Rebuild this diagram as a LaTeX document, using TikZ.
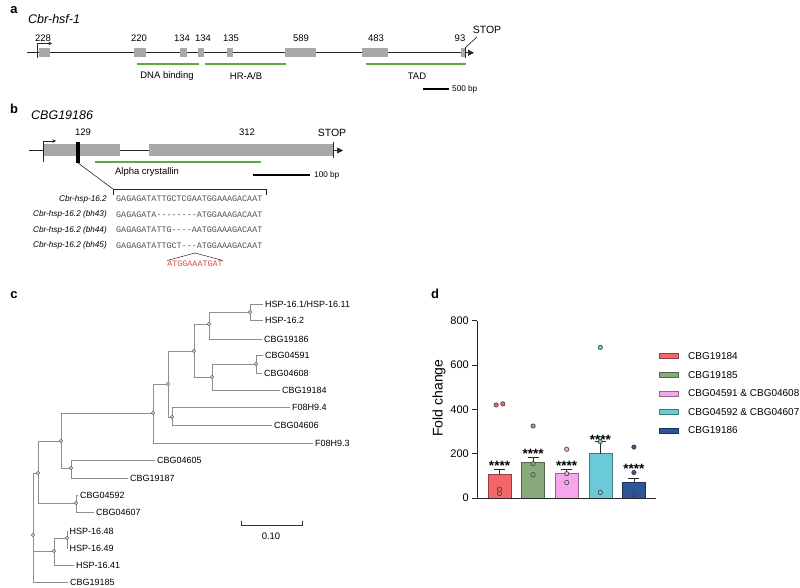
\documentclass[tikz,border=0pt]{standalone}
\usepackage{fontspec}
\setmainfont{Liberation Sans}
\setmonofont{Liberation Mono}
\usetikzlibrary{arrows.meta}

\definecolor{exongray}{HTML}{A8A8A8}
\definecolor{domgreen}{HTML}{5FA83F}
\definecolor{treegray}{HTML}{8E8E8E}
\definecolor{seqgray}{HTML}{505050}
\definecolor{insred}{HTML}{E0464B}
\definecolor{cRed}{HTML}{F3676A}
\definecolor{cGreen}{HTML}{88AA7C}
\definecolor{cPink}{HTML}{F5A6EC}
\definecolor{cCyan}{HTML}{6BCAD8}
\definecolor{cBlue}{HTML}{2D559A}

\begin{document}
\begin{tikzpicture}[x=1pt,y=-1pt,
  panel/.style={inner sep=0pt,font=\fontsize{13}{15}\selectfont\bfseries},
  title/.style={anchor=west,inner sep=0pt,font=\fontsize{12.5}{14}\selectfont\itshape},
  num/.style={inner sep=0pt,font=\fontsize{9.5}{11}\selectfont},
  small/.style={anchor=west,inner sep=0pt,font=\fontsize{8.2}{10}\selectfont},
  exon/.style={fill=exongray},
  gene/.style={line width=0.7pt,black!85},
  dom/.style={domgreen,line width=1.8pt},
  bar/.style={line width=1.5pt},
  tip/.style={-{Triangle[length=6pt,width=6pt]}},
  start/.style={-{Stealth[length=3.5pt,width=3.5pt]}},
  seq/.style={inner sep=0pt,anchor=west,text=seqgray,font=\fontsize{8.4}{10}\ttfamily},
  seqlbl/.style={inner sep=0pt,anchor=east,font=\fontsize{8.2}{10}\selectfont\itshape},
  branch/.style={treegray,line width=0.8pt},
  knot/.style={fill=gray!45,draw=gray!75!black,line width=0.3pt},
  leaf/.style={anchor=west,inner xsep=2pt,inner ysep=0pt,font=\fontsize{9}{11}\selectfont},
  axis/.style={black!85,line width=0.9pt},
  ticklbl/.style={inner sep=0pt,anchor=east,font=\fontsize{11}{13}\selectfont},
  legend/.style={anchor=west,inner sep=0pt,font=\fontsize{10}{12}\selectfont},
  stars/.style={anchor=base,inner sep=0pt,font=\fontsize{13.5}{15}\selectfont\bfseries}]

\useasboundingbox (0,0) rectangle (800,588);

% a
\node[panel] (pa) at (14,10) {a};
\node[title] (ga) at (28,19) {Cbr-hsf-1};
\draw[gene] (27,52.8) -- (465,52.8);
\foreach \a/\b/\n/\lx [count=\k] in {39/50/228/43, 134/146/220/139, 180/187/134/182,
    198/204/134/203, 227/233/135/231, 285/316/589/301, 362/388/483/376, 461/465/93/460}
  {\fill[exon] (\a,48.3) rectangle (\b,57.3);
   \node[num] (ea\k) at (\lx,38.5) {\n};}
\draw[gene,start] (37,58) -- (37,43.5) -- (52,43.5);
\draw[gene] (465,47.5) -- (465,58.5);
\draw[gene] (466,47) -- (477,37);
\draw[gene,tip] (465,52.8) -- (474,52.8);
\node[num,font=\fontsize{10.5}{12}\selectfont] (stopa) at (487,30) {STOP};
\draw[dom] (137,64) -- (199,64);
\draw[dom] (205,64) -- (286,64);
\draw[dom] (366,64) -- (466,64);
\node[num] (dna) at (167,76) {DNA binding};
\node[num] (hr) at (246,76) {HR-A/B};
\node[num] (tad) at (417,76) {TAD};
\draw[bar] (423,89) -- (449,89);
\node[small] (sba) at (452,89) {500 bp};

% b
\node[panel] (pb) at (14,109) {b};
\node[title] (gb) at (31,115) {CBG19186};
\draw[gene] (29,150.5) -- (333,150.5);
\fill[exon] (44,144.5) rectangle (120,156.5);
\fill[exon] (149,144.5) rectangle (333,156.5);
\draw[gene,start] (43,162) -- (43,141) -- (56,141);
\fill (76,142) rectangle (80,163);
\draw[gene] (333,142) -- (333,158);
\draw[gene,tip] (333,150.5) -- (343,150.5);
\node[num] (n129) at (83,132) {129};
\node[num] (n312) at (247,132.5) {312};
\node[num,font=\fontsize{10.5}{12}\selectfont] (stopb) at (332,132.5) {STOP};
\draw[dom] (95,162) -- (261,162);
\node[num] (alpha) at (147,172.5) {Alpha crystallin};
\draw[bar] (253,175) -- (310,175);
\node[small] (sbb) at (314,175) {100 bp};
\draw[gene,line width=0.6pt] (78,163) -- (113,189);
\draw[gene,line width=0.6pt] (113,195) -- (113,189) -- (266,189) -- (266,195);
\foreach \y/\s/\l [count=\k] in {199/GAGAGATATTGCTCGAATGGAAAGACAAT/Cbr-hsp-16.2,
    214.5/GAGAGATA--------ATGGAAAGACAAT/Cbr-hsp-16.2 (bh43),
    230/GAGAGATATTG----AATGGAAAGACAAT/Cbr-hsp-16.2 (bh44),
    245.5/GAGAGATATTGCT---ATGGAAAGACAAT/Cbr-hsp-16.2 (bh45)}
  {\node[seq] (s\k) at (116,\y) {\s};
   \node[seqlbl] (q\k) at (107,\y) {\l};}
\coordinate (apex) at (195,253);
\node[seq,anchor=north,text=insred] (ins) at (195,260.5) {ATGGAAATGAT};
\draw[gene,line width=0.5pt] (ins.north west) -- (apex) -- (ins.north east);

% c
\node[panel] (pc) at (14,295) {c};
\foreach \n/\x/\y in {t1/250/312, t2/209/324, t3/256/364, t4/212/377, t5/194/351,
    t6/172/417, t7/168/384, t8/153/413, t9/71/468, t10/61/441, t11/76/503,
    t12/38/473, t13/67/538, t14/54/551, t15/33/535}
  \coordinate (\n) at (\x,\y);
\foreach \n/\x/\y/\t in {l1/263/304/{HSP-16.1/HSP-16.11}, l2/263/320/HSP-16.2,
    l3/262/339/CBG19186, l4/263/355/CBG04591, l5/262/373/CBG04608,
    l6/280/390/CBG19184, l7/290/407/F08H9.4, l8/272/425/CBG04606,
    l9/313/443/F08H9.3, l10/155/460/CBG04605, l11/128/478/CBG19187,
    l12/78/495/CBG04592, l13/94/512/CBG04607, l14/67.5/531/HSP-16.48,
    l15/67.5/548/HSP-16.49, l16/74/565/HSP-16.41, l17/68/582/CBG19185}
  \node[leaf] (\n) at (\x,\y) {\t};
\foreach \p/\c in {t1/l1, t1/l2, t2/t1, t2/l3, t3/l4, t3/l5, t4/t3, t4/l6, t5/t2, t5/t4,
    t6/l7, t6/l8, t7/t5, t7/t6, t8/t7, t8/l9, t9/l10, t9/l11, t10/t8, t10/t9,
    t11/l12, t11/l13, t12/t10, t12/t11, t13/l14, t13/l15, t14/t13, t14/l16,
    t15/t12, t15/t14, t15/l17}
  \draw[branch] (\p) |- (\c);
\foreach \i in {1,...,15}
  \filldraw[knot] (t\i) circle (1.8pt);
\draw[black!80,line width=0.8pt] (241,521) -- (241,525) -- (302,525) -- (302,521);
\node[num] (sbc) at (271,536) {0.10};

% d
\node[panel] (pd) at (435,294) {d};
\begin{scope}[shift={(477,498)},y=0.2215pt]
  \foreach \c/\m/\e/\s [count=\k] in {cRed/108/130/158, cGreen/160/185/213,
      cPink/113/130/158, cCyan/200/255/277, cBlue/73/88/144}
    {\pgfmathsetmacro\cx{22.5+33.6*(\k-1)}
     \filldraw[fill=\c,draw=\c!60!black,line width=0.6pt] (\cx-11.5,0) rectangle (\cx+11.5,\m);
     \draw[line width=0.8pt,black!85] (\cx,\m) -- (\cx,\e) (\cx-5.5,\e) -- (\cx+5.5,\e);
     \node[stars] (st\k) at (\cx,\s) [yshift=-7.8pt] {****};}
  \foreach \c/\k/\dx/\v in {cRed/1/-3.3/420, cRed/1/3.3/425, cRed/1/0/40, cRed/1/0/20,
      cGreen/2/0/325, cGreen/2/0/155, cGreen/2/0/105,
      cPink/3/0/220, cPink/3/0/110, cPink/3/0/70,
      cCyan/4/0/680, cCyan/4/0/255, cCyan/4/0/25,
      cBlue/5/0/230, cBlue/5/0/115, cBlue/5/0/15}
    \filldraw[fill=\c,draw=black!75,line width=0.6pt] ({22.5+33.6*(\k-1)+\dx},\v) circle (2.2pt);
  \draw[axis] (0,0) -- (0,800);
  \draw[axis] (0,0) -- (179,0);
  \foreach \v [count=\k] in {0,200,...,800}
    {\draw[axis] (0,\v) -- (-5,\v);
     \node[ticklbl] (tk\k) at (-8,\v) {\v};}
  \node[rotate=90,inner sep=0pt,font=\fontsize{14}{16}\selectfont] (ylab) at (-38,451) {Fold change};
\end{scope}
\foreach \c/\y/\t [count=\k] in {cRed/356/CBG19184, cGreen/375/CBG19185,
    cPink/393.5/CBG04591 \& CBG04608, cCyan/412/CBG04592 \& CBG04607, cBlue/430.5/CBG19186}
  {\filldraw[fill=\c,draw=\c!60!black,line width=0.6pt] (659,\y-2.5) rectangle (678,\y+2.5);
   \node[legend] (lg\k) at (688,\y) {\t};}
\end{tikzpicture}
\end{document}
